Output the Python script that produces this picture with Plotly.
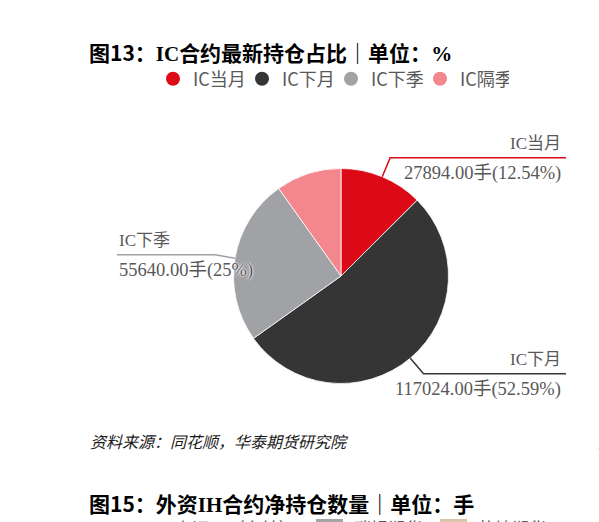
import math
import plotly.graph_objects as go

# ---------------- data ----------------
categories = ["IC当月", "IC下月", "IC下季", "IC隔季"]
positions = [27894.00, 117024.00, 55640.00, 21900.00]   # 手
pct_labels = ["12.54%", "52.59%", "25%", None]
colors = ["#DC0A16", "#353535", "#A0A2A5", "#F3878D"]

title_text = "图13：<span style='font-family:Liberation Serif'>IC</span>合约最新持仓占比｜单位：<span style='font-family:Liberation Serif'>%</span>"
source_text = "资料来源：同花顺，华泰期货研究院"
next_title = "图15：外资<span style='font-family:Liberation Serif'>IH</span>合约净持仓数量｜单位：手"
next_legend = ["上证50（右轴）", "瑞银期货", "乾坤期货"]
next_legend_colors = ["#7F7F7F", "#A5A5A5", "#D8C4A8"]

# ---------------- layout helpers ----------------
W, H = 599, 522
CX, CY, R = 341, 276, 107.5


def px(x):
    return x / W


def py(y):
    return 1 - y / H


fig = go.Figure()
fig.add_trace(go.Pie(
    labels=categories, values=positions, sort=False, direction="clockwise",
    rotation=0, textinfo="none", showlegend=False,
    marker=dict(colors=colors, line=dict(color="white", width=0.8)),
    domain=dict(x=[px(CX - R), px(CX + R)], y=[py(CY + R), py(CY - R)]),
))
for cat, col in zip(categories, colors):
    fig.add_trace(go.Scatter(x=[None], y=[None], mode="markers", name=cat,
                             marker=dict(color=col, size=14, symbol="circle")))

halo = "0 0 2px white, 0 0 2px white, 0 0 1px white"
label_font = dict(family="Liberation Serif, Noto Sans CJK SC", size=17, color="#595959", shadow=halo)
value_font = dict(family="Liberation Serif, Noto Sans CJK SC", size=18.5, color="#595959", shadow=halo)
shapes = []
annotations = []
total = sum(positions)
cum = 0.0
for cat, val, pl, col in zip(categories, positions, pct_labels, colors):
    frac = val / total
    mid = (cum + frac / 2) * 2 * math.pi
    cum += frac
    if pl is None:
        continue
    ex, ey = CX + R * math.sin(mid), CY - R * math.cos(mid)
    bx, by = CX + 1.19 * R * math.sin(mid), CY - 1.19 * R * math.cos(mid)
    right = math.sin(mid) > 0
    endx = 566 if right else 117
    shapes.append(dict(type="path", xref="paper", yref="paper",
                       path=f"M {px(ex)},{py(ey)} L {px(bx)},{py(by)} L {px(endx)},{py(by)}",
                       line=dict(color=col, width=1.5)))
    tx = 563 if right else 117
    anchor = "right" if right else "left"
    annotations.append(dict(text=cat, x=px(tx), y=py(by - 14), xref="paper", yref="paper",
                            xanchor=anchor, yanchor="middle", showarrow=False, font=label_font))
    annotations.append(dict(text=f"{val:.2f}手({pl})", x=px(tx), y=py(by + 16), xref="paper",
                            yref="paper", xanchor=anchor, yanchor="middle", showarrow=False,
                            font=value_font))

# titles / source
annotations.append(dict(text="<b>" + title_text + "</b>", x=px(87), y=py(52), xref="paper", yref="paper",
                        xanchor="left", yanchor="middle", showarrow=False,
                        font=dict(family="Noto Sans CJK SC", size=21, color="#000000")))
annotations.append(dict(text=source_text, x=px(88), y=py(441), xref="paper", yref="paper",
                        xanchor="left", yanchor="middle", showarrow=False,
                        font=dict(family="Noto Sans CJK SC", size=16, color="#1A1A1A", style="italic")))
annotations.append(dict(text="<b>" + next_title + "</b>", x=px(87), y=py(503), xref="paper", yref="paper",
                        xanchor="left", yanchor="middle", showarrow=False,
                        font=dict(family="Noto Sans CJK SC", size=21, color="#000000")))
# neighbouring-column fragments at right edge
annotations.append(dict(text="<b>图14</b>", x=px(596), y=py(52), xref="paper", yref="paper",
                        xanchor="left", yanchor="middle", showarrow=False,
                        font=dict(family="Noto Sans CJK SC", size=21, color="#000000")))
annotations.append(dict(text="<b>图16</b>", x=px(596), y=py(503), xref="paper", yref="paper",
                        xanchor="left", yanchor="middle", showarrow=False,
                        font=dict(family="Noto Sans CJK SC", size=21, color="#000000")))
annotations.append(dict(text="资料", x=px(596), y=py(441), xref="paper", yref="paper",
                        xanchor="left", yanchor="middle", showarrow=False,
                        font=dict(family="Noto Sans CJK SC", size=16, color="#1A1A1A", style="italic")))
# cut-off legend of the next chart
nl_x = [173, 352, 476]
nl_box = [None, 316, 440]
for txt, x0, bx0, col in zip(next_legend, nl_x, nl_box, next_legend_colors):
    annotations.append(dict(text=txt, x=px(x0), y=py(527), xref="paper", yref="paper",
                            xanchor="left", yanchor="middle", showarrow=False,
                            font=dict(family="Noto Sans CJK SC", size=17, color="#595959")))
    if bx0 is not None:
        shapes.append(dict(type="rect", xref="paper", yref="paper", x0=px(bx0), x1=px(bx0 + 27),
                           y0=py(530), y1=py(519), fillcolor=col, line=dict(width=0)))

fig.update_layout(
    width=W, height=H, margin=dict(l=0, r=0, t=0, b=0),
    paper_bgcolor="white", plot_bgcolor="white",
    xaxis=dict(visible=False), yaxis=dict(visible=False),
    showlegend=True,
    legend=dict(orientation="h", x=px(331), xanchor="center", y=py(79), yanchor="middle",
                font=dict(family="Noto Sans CJK SC", size=18, color="#595959"),
                bgcolor="rgba(0,0,0,0)", itemsizing="trace", entrywidth=44, traceorder="normal"),
    shapes=shapes, annotations=annotations,
)

fig.write_html("out.html", config={"staticPlot": True, "displayModeBar": False},
               post_script="document.body.style.margin='0px';document.body.style.overflow='hidden';")
